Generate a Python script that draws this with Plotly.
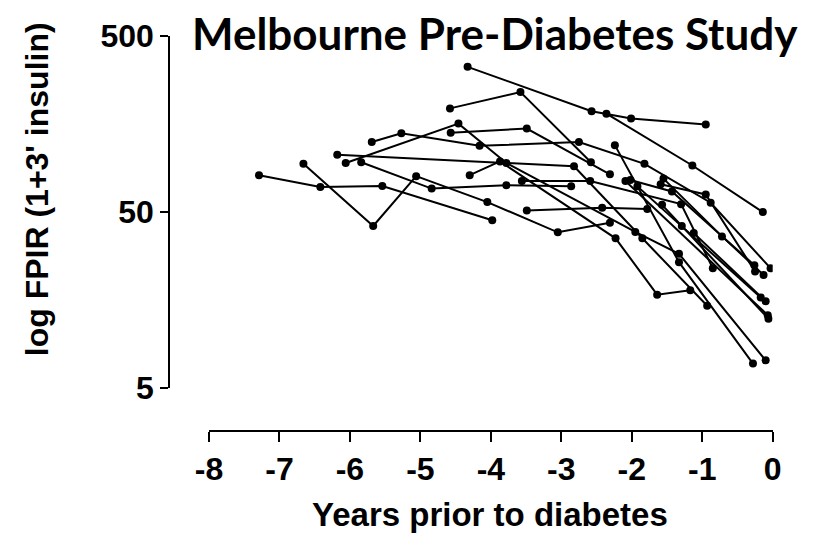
import plotly.graph_objects as go

# Years before diagnosis and first-phase insulin response (FPIR) for each subject
s01_years = [-7.29, -6.42, -5.54, -3.98]
s01_fpir = [81, 69.5, 70.4, 45]
s02_years = [-6.66, -5.67, -5.06, -4.05, -3.05, -2.31]
s02_fpir = [94, 41.7, 80, 57, 38.4, 43.5]
s03_years = [-6.06, -4.46, -3.78, -1.95, -1.33, -0.10]
s03_fpir = [95, 159, 95, 38.6, 29, 7.2]
s04_years = [-5.69, -5.27, -4.16, -2.75, -1.82, -0.88, -0.03]
s04_fpir = [125, 140, 119, 125, 94, 56.5, 24]
s05_years = [-5.84, -4.84, -3.78, -2.86]
s05_fpir = [96, 68, 71, 70]
s06_years = [-6.18, -2.82, -1.85, -0.93]
s06_fpir = [106, 91, 35.5, 14.7]
s07_years = [-4.58, -3.58, -2.58]
s07_fpir = [194, 240, 96]
s08_years = [-4.33, -2.57, -2.01, -0.95]
s08_fpir = [334, 187, 170, 157]
s09_years = [-2.36, -1.14, -0.14]
s09_fpir = [181, 92, 50]
s10_years = [-4.57, -3.49, -2.31]
s10_fpir = [141, 149, 82]
s11_years = [-4.30, -3.87, -2.23, -1.64, -1.17]
s11_fpir = [81, 97, 35.5, 17, 18]
s12_years = [-3.56, -2.59, -1.30, -0.85]
s12_fpir = [75, 75, 55.5, 24]
s13_years = [-3.49, -2.42, -1.78]
s13_fpir = [51, 53, 52]
s14_years = [-2.24, -1.33, -0.28]
s14_fpir = [120, 26, 6.9]
s15_years = [-2.02, -1.43, -0.26]
s15_fpir = [76, 65.5, 25]
s16_years = [-1.92, -1.29, -0.17]
s16_fpir = [70, 41.7, 16.4]
s17_years = [-1.55, -0.72, -0.13]
s17_fpir = [77.5, 36.4, 22]
s18_years = [-1.59, -0.95, -0.25]
s18_fpir = [72, 63, 23]
s19_years = [-1.12, -0.10]
s19_fpir = [38, 15.6]
s20_years = [-2.09, -0.07]
s20_fpir = [75, 13]
s21_years = [-1.57, -0.06]
s21_fpir = [55, 12.4]

subjects = [
    (s01_years, s01_fpir), (s02_years, s02_fpir), (s03_years, s03_fpir),
    (s04_years, s04_fpir), (s05_years, s05_fpir), (s06_years, s06_fpir),
    (s07_years, s07_fpir), (s08_years, s08_fpir), (s09_years, s09_fpir),
    (s10_years, s10_fpir), (s11_years, s11_fpir), (s12_years, s12_fpir),
    (s13_years, s13_fpir), (s14_years, s14_fpir), (s15_years, s15_fpir),
    (s16_years, s16_fpir), (s17_years, s17_fpir), (s18_years, s18_fpir),
    (s19_years, s19_fpir), (s20_years, s20_fpir), (s21_years, s21_fpir),
]

x_ticks = [-8, -7, -6, -5, -4, -3, -2, -1, 0]
y_ticks = [5, 50, 500]

W, H = 817, 534
ML, MR, MT, MB = 160, 27, 28, 94
pw, ph = W - ML - MR, H - MT - MB

def fx(px):
    return (px - ML) / pw

def fy(py):
    return (H - MB - py) / ph

fig = go.Figure()
for yrs, vals in subjects:
    fig.add_trace(go.Scatter(
        x=yrs, y=vals, mode="lines+markers",
        line=dict(color="black", width=2),
        marker=dict(color="black", size=8),
        showlegend=False, hoverinfo="skip",
    ))

arial = "Liberation Sans, Arial, sans-serif"
tick_font = dict(family=arial, size=32, color="black")

fig.update_layout(
    width=W, height=H,
    margin=dict(l=ML, r=MR, t=MT, b=MB, pad=0),
    paper_bgcolor="white", plot_bgcolor="white",
    xaxis=dict(
        range=[-8, 0], domain=[fx(209), fx(772.7)],
        anchor="free", position=fy(431),
        tickvals=x_ticks, ticktext=[f"<b>{v}</b>" for v in x_ticks],
        tickfont=tick_font, ticks="outside", ticklen=10, tickwidth=1.6,
        tickcolor="black", showline=True, linecolor="black", linewidth=1.6,
        showgrid=False, zeroline=False,
    ),
    yaxis=dict(
        type="log", range=[0.69897, 2.69897], domain=[fy(388), fy(34)],
        anchor="free", position=fx(169),
        tickvals=y_ticks, ticktext=[f"<b>{v}</b>" for v in y_ticks],
        tickfont=tick_font, ticks="outside", ticklen=8, tickwidth=1.6,
        tickcolor="black", showline=True, linecolor="black", linewidth=1.6,
        showgrid=False, zeroline=False,
    ),
    annotations=[
        dict(text="<b>Melbourne Pre-Diabetes Study</b>", xref="paper", yref="paper",
             x=fx(495), y=fy(31), showarrow=False, xanchor="center", yanchor="middle",
             font=dict(family="Lato, sans-serif", size=44, color="black")),
        dict(text="<b>Years prior to diabetes</b>", xref="paper", yref="paper",
             x=fx(490), y=fy(515), showarrow=False, xanchor="center", yanchor="middle",
             font=dict(family=arial, size=33, color="black")),
        dict(text="<b>log FPIR (1+3' insulin)</b>", xref="paper", yref="paper",
             x=fx(37), y=fy(188), showarrow=False, xanchor="center", yanchor="middle",
             textangle=-90,
             font=dict(family=arial, size=32, color="black")),
    ],
)

fig.write_html("out.html")
